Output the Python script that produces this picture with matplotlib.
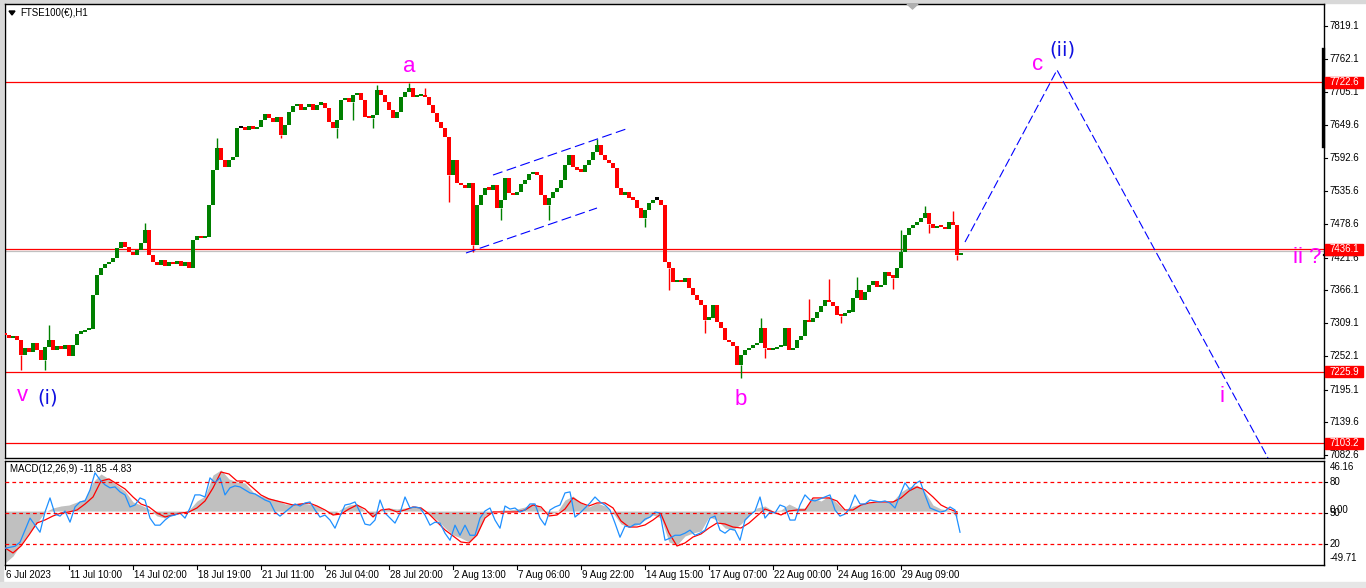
import numpy as np
import matplotlib
matplotlib.use("Agg")
import matplotlib.pyplot as plt
from matplotlib.patches import Rectangle, Polygon
from matplotlib.transforms import blended_transform_factory as blend

plt.rcParams['font.family'] = ['Liberation Sans', 'DejaVu Sans']

# ---------------- data ----------------
bars_per_candle = 4          # each drawn candle groups 4 hourly bars
open0 = 7292
closes = [
    7289, 7284, 7287, 7280, 7254, 7267, 7260, 7275, 7263, 7246,
    7268, 7280, 7263, 7270, 7265, 7272, 7253, 7272, 7291, 7294,
    7297, 7299, 7357, 7392, 7404, 7411, 7414, 7421, 7438, 7448,
    7440, 7431, 7426, 7435, 7447, 7469, 7426, 7414, 7409, 7418,
    7407, 7414, 7411, 7416, 7407, 7414, 7404, 7452, 7459, 7455,
    7457, 7512, 7572, 7610, 7589, 7577, 7589, 7594, 7644, 7644,
    7641, 7648, 7642, 7646, 7658, 7668, 7661, 7654, 7663, 7632,
    7649, 7672, 7682, 7685, 7675, 7680, 7685, 7675, 7684, 7687,
    7678, 7654, 7644, 7658, 7692, 7696, 7689, 7701, 7704, 7692,
    7663, 7661, 7666, 7709, 7701, 7689, 7675, 7661, 7672, 7697,
    7706, 7713, 7697, 7699, 7701, 7697, 7684, 7670, 7654, 7644,
    7629, 7563, 7589, 7550, 7546, 7541, 7550, 7443, 7512, 7529,
    7541, 7538, 7546, 7507, 7521, 7558, 7532, 7529, 7534, 7548,
    7555, 7565, 7569, 7563, 7529, 7512, 7524, 7534, 7541, 7555,
    7581, 7598, 7577, 7572, 7569, 7581, 7589, 7603, 7615, 7598,
    7589, 7584, 7575, 7541, 7529, 7534, 7524, 7521, 7507, 7490,
    7503, 7515, 7521, 7521, 7512, 7414, 7404, 7380, 7383, 7380,
    7387, 7369, 7357, 7349, 7340, 7315, 7318, 7340, 7311, 7301,
    7280, 7277, 7270, 7237, 7254, 7263, 7267, 7272, 7275, 7301,
    7267, 7263, 7265, 7268, 7270, 7301, 7263, 7267, 7280, 7287,
    7315, 7311, 7318, 7328, 7339, 7349, 7345, 7339, 7323, 7321,
    7327, 7328, 7352, 7366, 7349, 7363, 7375, 7381, 7371, 7375,
    7397, 7390, 7387, 7404, 7431, 7460, 7472, 7478, 7483, 7490,
    7498, 7479, 7472, 7476, 7474, 7471, 7483, 7478, 7426, 7430,
]
# notable wick extremes (bar index, price)
spike_bars = [16, 40, 44, 140, 212, 276, 332, 348, 368, 372, 404, 420, 444, 468,
              496, 544, 592, 640, 664, 700, 736, 756, 760, 804, 824, 836, 852,
              888, 896, 920, 924, 948, 952]
spike_prices = [7229, 7229, 7306, 7481, 7627, 7627, 7627, 7658, 7644, 7718, 7721,
                7713, 7517, 7431, 7486, 7486, 7625, 7474, 7366, 7292, 7215, 7318,
                7249, 7351, 7385, 7309, 7388, 7368, 7469, 7510, 7464, 7502, 7418]

macd_step = 8                # MACD values read every 8 bars
macd_main = [
    -47.8, -41.4, -30.3, -20.2, -11.0, -0.8, 2.9, 4.7, 5.6, 8.4,
    11.2, 26.8, 34.2, 29.6, 24.0, 18.5, 8.4, 5.6, 1.9, -4.5,
    -6.4, -3.6, -0.8, 1.0, 9.3, 13.9, 33.3, 37.9, 29.6, 26.8,
    25.9, 17.6, 13.9, 12.1, 10.2, 6.5, 6.5, 7.5, 6.5, 4.7,
    0.1, -3.6, 1.9, 5.6, 6.5, 0.1, -5.4, 1.0, 2.9, 1.9,
    2.9, 3.8, 2.9, -2.7, -8.2, -15.6, -22.0, -24.8, -28.5, -22.0,
    -4.5, -0.8, 1.0, 1.0, 1.9, 3.8, 7.5, 2.9, -2.7, -0.8,
    10.2, 13.9, 7.5, 3.8, 7.5, 4.7, -1.8, -11.9, -14.7, -12.8,
    -8.2, -3.6, -6.4, -28.5, -31.2, -23.0, -20.2, -18.3, -5.4, -8.2,
    -15.6, -17.4, -11.9, -4.5, 2.9, 4.7, 0.1, 1.0, 6.5, 2.9,
    2.9, 12.1, 9.3, 13.9, 7.5, 0.1, 4.7, 6.5, 7.5, 8.4,
    8.4, 9.3, 17.6, 22.2, 24.0, 17.6, 5.6, 1.9, 1.0, -5.4,
]
macd_signal = [
    -34.0, -38.6, -32.2, -22.0, -11.0, -8.2, -4.5, -1.8, -0.8, 1.0,
    6.5, 13.0, 27.7, 29.6, 25.0, 20.4, 13.0, 6.5, 3.8, -1.8,
    -5.4, -3.6, -1.8, -0.8, 2.9, 9.3, 21.3, 36.0, 34.2, 27.7,
    27.7, 21.3, 14.8, 11.2, 9.3, 7.5, 5.6, 6.5, 7.5, 4.7,
    1.0, -3.6, -2.7, 1.9, 5.6, 1.9, -5.4, 1.0, 1.9, -0.8,
    1.0, 3.8, 2.9, -2.7, -10.0, -17.4, -22.9, -28.5, -29.4, -22.0,
    -6.4, -0.8, -0.8, -0.8, -0.8, 1.0, 5.6, 3.8, -4.5, -3.6,
    1.9, 12.1, 7.5, 4.7, 7.5, 7.5, 2.9, -9.1, -14.7, -14.7,
    -12.8, -8.2, -2.7, -20.2, -32.2, -29.4, -23.9, -21.1, -15.6, -11.0,
    -11.9, -14.7, -15.6, -11.0, -4.5, 1.9, -0.8, -3.6, 0.1, 1.0,
    1.0, 12.1, 12.1, 12.1, 9.3, 1.0, 1.0, 5.6, 7.5, 8.4,
    8.4, 8.4, 12.1, 18.5, 22.2, 19.5, 13.0, 5.6, 1.9, -0.8,
]
osc_step = 5                 # oscillator values read every 5 bars
osc_values = [
    16.1, 17.0, 18.0, 21.9, 33.5, 45.1, 38.3, 31.5, 50.9, 64.5, 49.0, 47.0,
    51.9, 41.2, 55.8, 60.6, 61.6, 72.2, 88.7, 81.9, 77.1, 74.2, 75.1, 70.3,
    67.4, 55.8, 57.7, 64.5, 62.5, 45.1, 38.3, 38.3, 43.2, 47.0, 48.0, 50.0,
    45.1, 54.8, 67.4, 67.4, 65.4, 83.8, 79.0, 83.8, 67.4, 74.2, 76.1, 75.1,
    72.2, 69.3, 68.3, 65.4, 62.5, 60.6, 50.9, 47.0, 50.9, 54.8, 58.7, 56.7,
    59.6, 60.6, 52.9, 46.1, 48.0, 43.2, 35.4, 47.0, 57.7, 58.7, 60.6, 50.9,
    39.3, 38.3, 43.2, 62.5, 50.0, 45.1, 40.3, 50.0, 65.4, 54.8, 55.8, 54.8,
    48.0, 38.3, 41.2, 40.3, 30.6, 23.8, 38.3, 28.6, 38.3, 28.6, 28.6, 45.1,
    51.9, 54.8, 43.2, 35.4, 56.7, 53.8, 54.8, 50.9, 52.9, 58.7, 58.7, 45.1,
    38.3, 52.9, 55.8, 57.7, 69.3, 70.3, 46.1, 50.0, 54.8, 59.6, 65.4, 60.6,
    57.7, 52.9, 40.3, 26.7, 37.4, 36.4, 39.3, 39.3, 44.1, 46.1, 50.9, 50.0,
    23.8, 25.8, 28.6, 28.6, 30.6, 33.5, 28.6, 30.6, 33.5, 45.1, 47.0, 33.5,
    30.6, 34.5, 33.5, 23.8, 43.2, 48.0, 51.9, 65.4, 45.1, 50.9, 50.0, 57.7,
    55.8, 43.2, 43.2, 57.7, 67.4, 62.5, 61.6, 63.5, 65.4, 67.4, 52.9, 47.0,
    49.0, 54.8, 67.4, 58.7, 58.7, 62.5, 61.6, 60.6, 61.6, 59.6, 54.8, 67.4,
    79.0, 72.2, 78.0, 80.9, 67.4, 54.8, 52.9, 50.9, 51.9, 55.8, 52.9, 31.5,
]
osc_levels = [80, 50, 20]

price_ticks = ['7819.1', '7762.1', '7705.1', '7649.6', '7592.6', '7535.6', '7478.6',
               '7421.6', '7366.1', '7309.1', '7252.1', '7195.1', '7139.6', '7082.6']
level_prices = [7722.6, 7436.1, 7225.9, 7103.2]
bid_price = 7433.0

date_labels = ['6 Jul 2023', '11 Jul 10:00', '14 Jul 02:00', '18 Jul 19:00', '21 Jul 11:00',
               '26 Jul 04:00', '28 Jul 20:00', '2 Aug 13:00', '7 Aug 06:00', '9 Aug 22:00',
               '14 Aug 15:00', '17 Aug 07:00', '22 Aug 00:00', '24 Aug 16:00', '29 Aug 09:00']
date_step = 64

# Elliott-wave drawing (bar index, price)
proj_bars = [960, 1052, 1263]
proj_prices = [7448.4, 7743.6, 7077.8]
chan_up_bars, chan_up_prices = [488, 621], [7563.4, 7642.3]
chan_lo_bars, chan_lo_prices = [461, 592], [7429.6, 7506.8]
wave_labels = [  # text, bar, price, colour, size, family
    ('a', 404, 7750.4, '#FF00FF', 16, 'Liberation Sans'),
    ('b', 736, 7179.0, '#FF00FF', 16, 'Liberation Sans'),
    ('c', 1033, 7753.9, '#FF00FF', 16, 'Liberation Sans'),
    ('(ii)', 1057, 7778.5, '#1010E0', 14, 'DejaVu Sans'),
    ('v', 17, 7184.2, '#FF00FF', 16, 'Liberation Sans'),
    ('(i)', 43, 7181.0, '#1010E0', 14, 'DejaVu Sans'),
    ('i', 1217, 7182.5, '#FF00FF', 16, 'Liberation Sans'),
    ('ii ?', 1302, 7422.7, '#FF00FF', 16, 'Liberation Sans'),
]

# ---------------- figure ----------------
W, H = 1366, 588
fig = plt.figure(figsize=(W / 100, H / 100), dpi=100)
fig.patch.set_facecolor('white')


def fx(x):
    return x / W


def fy(y):
    return 1 - y / H


# window chrome
fig.patches.append(Rectangle((0, 0), 3 / W, 1, transform=fig.transFigure, color='#D8D8D8', zorder=-1))
fig.patches.append(Rectangle((0, fy(3)), 1, 3 / H, transform=fig.transFigure, color='#D8D8D8', zorder=-1))
fig.patches.append(Rectangle((0, 0), 1, 6 / H, transform=fig.transFigure, color='#E6E6E6', zorder=-1))

# ---- main price panel ----
ax = fig.add_axes([fx(5), fy(458), (1324 - 5) / W, (458 - 4) / H])
ax.set_xlim(0, 1319)
ax.set_ylim(7077.8, 7856.9)
ax.set_xticks([])
ax.set_yticks([])
for s in ax.spines.values():
    s.set_color('black')
    s.set_linewidth(1.0)

c = np.array(closes, dtype=float)
o = np.r_[open0, c[:-1]]
xc = np.arange(len(c)) * bars_per_candle
lo = np.minimum(o, c)
hi = np.maximum(o, c)
hgt = np.maximum(hi - lo, 4.0)
cols = np.where(c > o, '#008000', np.where(c < o, '#FF0000', '#000000'))
ax.bar(xc, hgt, bottom=lo, width=3.2, color=cols, linewidth=0, zorder=3)

# wicks at the notable extremes
for b, p in zip(spike_bars, spike_prices):
    k = b // bars_per_candle
    edge = hi[k] if p > hi[k] else lo[k]
    ax.plot([b, b], [edge, p], color=cols[k], lw=1.0, zorder=3, solid_capstyle='butt')

for lv in level_prices:
    ax.axhline(lv, color='#FF0000', lw=0.9, zorder=2)
ax.axhline(bid_price, color='#C0C0C0', lw=0.9, zorder=1)

ax.plot(proj_bars, proj_prices, color='#0000FF', lw=0.8, dashes=(8, 3), zorder=4)
ax.plot(chan_up_bars, chan_up_prices, color='#0000FF', lw=0.8, dashes=(9, 4), zorder=4)
ax.plot(chan_lo_bars, chan_lo_prices, color='#0000FF', lw=0.8, dashes=(9, 4), zorder=4)

for t, b, p, colr, sz, fam in wave_labels:
    ax.text(b, p, t, color=colr, fontsize=sz, ha='center', va='center', family=fam, zorder=5)

tr = blend(ax.transAxes, ax.transData)
for lab in price_ticks:
    v = float(lab)
    ax.plot([1.0, 1.0025], [v, v], color='black', lw=0.8, transform=tr, clip_on=False)
    ax.text(1.0045, v, lab, transform=tr, fontsize=7, va='center', ha='left', clip_on=False)

# black markers on price scale
ax.plot([0.9994, 0.9994], [7779.6, 7613.2], color='black', lw=2.4, transform=tr, clip_on=False, zorder=6)
ax.plot([1.0, 1.025], [7426.2, 7426.2], color='black', lw=1.6, transform=tr, clip_on=False, zorder=6)

for lv in level_prices:
    ax.add_patch(Rectangle((1.0008, lv - 9.6), 0.0285, 19.2, transform=tr, color='#FF0000',
                           clip_on=False, zorder=7))
    ax.text(1.0045, lv, f'{lv:.1f}', transform=tr, fontsize=7, color='white', va='center',
            ha='left', clip_on=False, zorder=8)

fig.text(fx(20), fy(13), 'FTSE100(€),H1', fontsize=7, va='center', ha='left')
fig.patches.append(Polygon([(fx(9), fy(11)), (fx(15), fy(11)), (fx(12), fy(15))],
                           closed=True, transform=fig.transFigure, color='black'))
fig.patches.append(Polygon([(fx(907), fy(4)), (fx(918), fy(4)), (fx(912.5), fy(9))],
                           closed=True, transform=fig.transFigure, color='#B0B0B0'))

# ---- MACD panel ----
ax2 = fig.add_axes([fx(5), fy(565), (1324 - 5) / W, (565 - 461) / H])
ax2.set_xlim(0, 1319)
ax2.set_ylim(-49.71, 46.16)
ax2.set_xticks([])
ax2.set_yticks([])
for s in ax2.spines.values():
    s.set_color('black')
    s.set_linewidth(1.0)

xm = np.arange(len(macd_main)) * macd_step
ax2.fill_between(xm, 0, macd_main, color='#C0C0C0', lw=0, zorder=1)
ax2.plot(xm, macd_signal, color='#FF0000', lw=0.9, zorder=3)

ax3 = ax2.twinx()
ax3.set_ylim(0, 100)
ax3.set_yticks([])
for s in ax3.spines.values():
    s.set_visible(False)
xo = np.arange(len(osc_values)) * osc_step
ax3.plot(xo, osc_values, color='#1E90FF', lw=0.9, zorder=2)
for lv in osc_levels:
    ax3.axhline(lv, color='#FF0000', lw=0.9, dashes=(3, 2.5), zorder=4)

tr3 = blend(ax3.transAxes, ax3.transData)
for lv in osc_levels:
    ax3.plot([1.0, 1.0025], [lv, lv], color='black', lw=0.8, transform=tr3, clip_on=False)
    ax3.text(1.0045, lv, str(lv), transform=tr3, fontsize=7, va='center', ha='left', clip_on=False)
tr2 = blend(ax2.transAxes, ax2.transData)
ax2.text(1.0045, 0.9, '0.00', transform=tr2, fontsize=7, va='center', ha='left', clip_on=False)
fig.text(fx(1330), fy(467), '46.16', fontsize=7, va='center', ha='left')
fig.text(fx(1330), fy(558), '-49.71', fontsize=7, va='center', ha='left')
fig.text(fx(10), fy(469), 'MACD(12,26,9) -11.85 -4.83', fontsize=7, va='center', ha='left')

# date axis
trd = blend(ax2.transData, ax2.transAxes)
for i, lab in enumerate(date_labels):
    b = i * date_step
    ax2.plot([b, b], [0, -0.04], color='black', lw=0.8, transform=trd, clip_on=False)
    ax2.text(b + 1, -0.095, lab, transform=trd, fontsize=7, va='center', ha='left', clip_on=False)

fig.savefig('out.png', dpi=100, facecolor='white')
